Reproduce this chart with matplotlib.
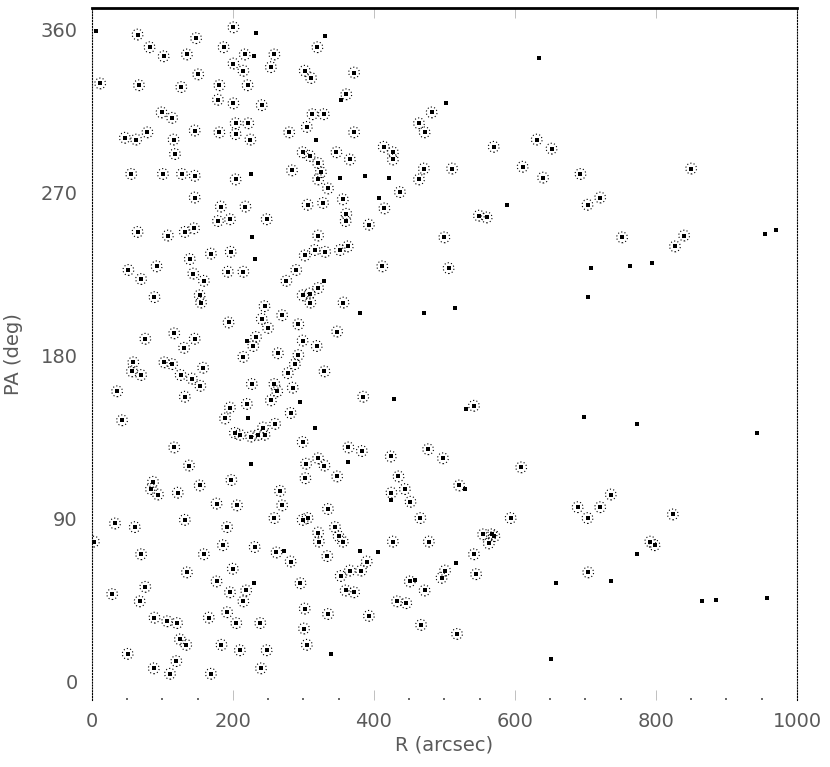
import matplotlib
matplotlib.use("Agg")
import matplotlib.pyplot as plt
import numpy as np

# =========================
# Dados: (R arcsec, PA deg)
# =========================
# fontes com circulo pontilhado
circ_a = [(65, 357), (201, 361), (148, 355), (82, 350), (187, 350), (320, 350), (102, 345),
          (135, 346), (217, 346), (259, 346), (201, 341), (254, 339), (215, 337), (151, 335),
          (302, 337), (311, 333), (12, 330), (67, 329), (127, 328), (181, 329), (221, 329),
          (179, 321), (201, 319), (241, 318), (99, 314), (114, 311), (146, 304), (181, 303),
          (204, 308), (222, 308), (204, 302), (225, 299), (47, 300), (63, 299), (79, 303),
          (116, 299), (118, 291), (280, 303), (305, 306), (313, 313), (329, 313), (56, 280),
          (101, 280), (128, 280), (146, 279), (204, 277), (284, 282), (299, 292), (309, 290),
          (321, 286), (325, 281), (321, 277), (335, 272), (146, 267), (183, 262), (218, 262),
          (306, 263), (328, 264), (179, 254), (196, 255), (248, 255), (65, 248), (108, 246),
          (132, 248), (145, 250), (321, 246)]
circ_b = [(372, 336), (361, 324), (482, 314), (464, 308), (472, 303), (372, 303), (347, 292),
          (366, 288), (414, 295), (427, 292), (427, 288), (570, 295), (631, 299), (652, 294),
          (471, 283), (511, 283), (611, 284), (640, 278), (464, 277), (437, 270), (356, 266),
          (415, 261), (361, 258), (360, 254), (393, 252), (549, 257), (560, 256), (500, 245),
          (693, 280), (850, 283), (721, 267), (703, 263), (752, 245), (840, 246)]
circ_c = [(197, 237), (169, 236), (139, 233), (302, 235), (316, 238), (331, 237), (52, 227),
          (92, 229), (70, 222), (144, 225), (159, 221), (193, 226), (215, 226), (290, 227),
          (276, 221), (89, 212), (153, 213), (155, 209), (299, 213), (309, 214), (321, 217),
          (310, 209), (245, 207), (241, 200), (250, 195), (270, 202), (194, 198), (293, 197),
          (117, 192), (76, 189), (146, 189), (131, 184), (233, 190), (229, 185), (299, 188),
          (319, 185), (264, 181), (215, 179), (293, 180), (59, 176), (57, 171), (70, 169),
          (103, 176), (114, 175), (126, 169), (142, 167), (158, 173), (154, 163), (132, 157),
          (36, 160), (43, 144), (288, 175), (278, 170), (330, 171), (227, 164), (259, 164),
          (263, 160), (285, 162), (254, 155), (220, 153), (196, 151), (189, 145), (282, 148),
          (260, 142), (243, 140), (203, 137), (210, 136), (226, 135), (236, 136), (245, 136),
          (299, 132), (117, 129), (138, 119), (304, 120), (321, 123), (330, 119)]
circ_d = [(352, 238), (363, 240), (412, 229), (506, 228), (357, 209), (348, 193), (385, 157),
          (542, 152), (364, 129), (383, 127), (424, 124), (477, 128), (498, 123), (609, 118),
          (827, 240)]
circ_e = [(303, 112), (87, 110), (84, 106), (94, 103), (122, 104), (153, 108), (198, 111),
          (177, 98), (206, 97), (267, 105), (270, 97), (259, 90), (299, 89), (306, 90),
          (335, 95), (33, 87), (61, 85), (132, 89), (192, 85), (3, 77), (321, 82), (322, 77),
          (70, 70), (159, 70), (186, 75), (231, 74), (262, 71), (282, 66), (334, 69), (135, 60),
          (200, 62), (29, 48), (76, 52), (68, 44), (177, 55), (196, 49), (219, 50), (215, 44),
          (296, 54), (302, 40), (335, 37), (89, 35), (107, 33), (121, 32), (166, 35), (192, 38),
          (205, 32), (239, 32), (301, 29), (125, 23), (134, 20), (184, 20), (210, 17), (248, 17),
          (305, 20), (51, 15), (120, 11), (88, 7), (111, 4), (169, 4), (240, 7)]
circ_f = [(348, 113), (435, 113), (444, 106), (425, 104), (452, 99), (521, 108), (466, 90),
          (594, 90), (345, 85), (350, 80), (356, 77), (427, 77), (478, 77), (555, 81), (567, 81),
          (571, 80), (563, 76), (542, 70), (390, 66), (382, 61), (366, 61), (353, 58), (501, 61),
          (496, 57), (545, 59), (451, 55), (472, 50), (360, 50), (372, 49), (433, 44), (446, 43),
          (393, 36), (467, 31), (518, 26), (736, 103), (689, 96), (721, 96), (703, 90),
          (824, 92), (792, 77), (798, 75), (704, 60)]

# fontes so com ponto
pontos = [(6, 359), (233, 358), (331, 356), (230, 345), (318, 299), (226, 280), (227, 245),
          (634, 344), (354, 321), (503, 319), (352, 278), (388, 279), (421, 278), (408, 267),
          (589, 263), (954, 247), (970, 249), (231, 233), (330, 221), (220, 188), (296, 154),
          (222, 145), (316, 140), (226, 120), (381, 203), (471, 203), (515, 206), (428, 156),
          (531, 150), (363, 121), (708, 228), (763, 229), (794, 231), (703, 212), (698, 146),
          (773, 142), (943, 137), (272, 72), (230, 54), (424, 100), (529, 106), (381, 72),
          (406, 71), (517, 65), (459, 56), (339, 15), (659, 54), (651, 12), (773, 70),
          (737, 55), (866, 44), (885, 45), (958, 46)]

x_ticks = [0, 200, 400, 600, 800, 1000]
y_ticks = [0, 90, 180, 270, 360]

circ = np.array(circ_a + circ_b + circ_c + circ_d + circ_e + circ_f)
dots = np.array(pontos)
todos = np.vstack([circ, dots])

# =========================
# Grafico
# =========================
cor_txt = "#5a5a5a"
fig = plt.figure(figsize=(8.3, 7.67), dpi=100)
ax = fig.add_axes([0.1105, 0.088, 0.8497, 0.9012])

ax.scatter(todos[:, 0], todos[:, 1], s=6, marker="s", c="k", linewidths=0, zorder=3)
ax.scatter(circ[:, 0], circ[:, 1], s=60, facecolors="none", edgecolors="k",
           linewidths=0.8, linestyles=(0, (1, 2)), zorder=2)

ax.set_xlim(0, 1000)
ax.set_ylim(-10.2, 371.5)

ax.spines["top"].set_linewidth(2)
ax.spines["bottom"].set_visible(False)
for lado in ["left", "right"]:
    ax.spines[lado].set_linestyle((0, (1, 1.6)))
    ax.spines[lado].set_linewidth(0.8)

ax.set_xticks(x_ticks)
ax.set_xticks(np.arange(50, 1000, 50), minor=True)
ax.set_yticks(y_ticks)
ax.tick_params(axis="x", which="major", direction="in", length=7, width=0.5,
               colors="0.65", labelcolor=cor_txt, labelsize=14, pad=9, top=True)
ax.tick_params(axis="x", which="minor", direction="in", length=1.2, width=1.2,
               colors="0.3", top=False)
ax.tick_params(axis="y", which="both", length=0, labelsize=14, labelcolor=cor_txt, pad=10)

ax.set_xlabel("R (arcsec)", fontsize=14, color=cor_txt)
ax.set_ylabel("PA (deg)", fontsize=14, color=cor_txt)
ax.xaxis.set_label_coords(0.5, -0.052)
ax.yaxis.set_label_coords(-0.098, 0.5)

fig.savefig("out.png", dpi=100)
